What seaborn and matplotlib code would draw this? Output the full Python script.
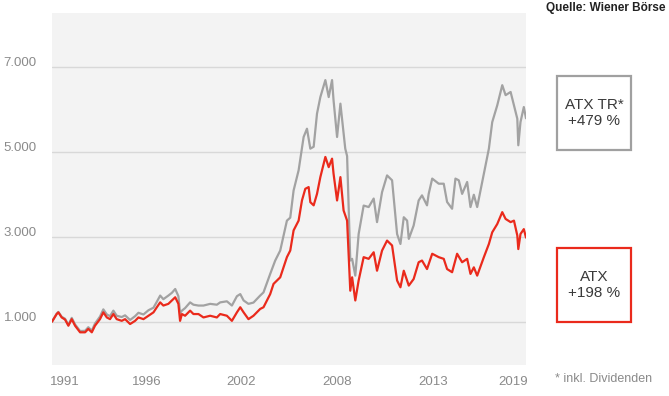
import pandas as pd
import matplotlib.pyplot as plt
import matplotlib.transforms as mtrans
from matplotlib.patches import Rectangle
import seaborn as sns

# ATX (Kursindex)
atx_years = [1991.0, 1991.28, 1991.38, 1991.58, 1991.78, 1991.98, 1992.18, 1992.38, 1992.68, 1992.98,
             1993.17, 1993.38, 1993.57, 1993.87, 1994.07, 1994.28, 1994.47, 1994.67, 1994.87, 1995.17,
             1995.37, 1995.67, 1995.97, 1996.17, 1996.47, 1996.77, 1997.07, 1997.27, 1997.47, 1997.66,
             1997.96, 1998.17, 1998.37, 1998.56, 1998.66, 1998.77, 1998.96, 1999.26, 1999.46, 1999.76,
             2000.06, 2000.46, 2000.86, 2001.06, 2001.46, 2001.76, 2002.06, 2002.26, 2002.46, 2002.75,
             2003.05, 2003.45, 2003.65, 2004.05, 2004.25, 2004.65, 2005.05, 2005.25, 2005.45, 2005.75,
             2005.95, 2006.15, 2006.35, 2006.45, 2006.65, 2006.85, 2007.05, 2007.35, 2007.55, 2007.75,
             2007.84, 2008.05, 2008.25, 2008.44, 2008.65, 2008.84, 2008.95, 2009.14, 2009.34, 2009.64,
             2009.94, 2010.24, 2010.44, 2010.74, 2011.04, 2011.34, 2011.64, 2011.84, 2012.04, 2012.34,
             2012.63, 2012.93, 2013.13, 2013.43, 2013.74, 2014.13, 2014.43, 2014.63, 2014.93, 2015.23,
             2015.53, 2015.83, 2016.03, 2016.23, 2016.43, 2016.83, 2017.13, 2017.33, 2017.63, 2017.93,
             2018.13, 2018.43, 2018.63, 2018.83, 2018.89, 2019.02, 2019.22, 2019.35]
atx_values = [1000, 1180, 1220, 1100, 1050, 905, 1060, 905, 750, 750,
              830, 750, 905, 1060, 1220, 1100, 1060, 1180, 1060, 1020,
              1060, 945, 1020, 1100, 1060, 1140, 1220, 1340, 1455, 1380,
              1420, 1500, 1575, 1420, 1020, 1180, 1140, 1260, 1180, 1180,
              1100, 1140, 1100, 1180, 1140, 1020, 1220, 1340, 1220, 1060,
              1140, 1300, 1340, 1650, 1890, 2045, 2520, 2675, 3150, 3380,
              3855, 4130, 4170, 3815, 3740, 4010, 4405, 4880, 4640, 4840,
              4485, 3855, 4405, 3620, 3380, 1730, 2045, 1500, 1970, 2520,
              2480, 2635, 2200, 2675, 2910, 2795, 1970, 1810, 2200, 1850,
              2005, 2400, 2440, 2240, 2600, 2520, 2480, 2240, 2165, 2600,
              2400, 2480, 2125, 2280, 2085, 2520, 2830, 3105, 3300, 3580,
              3420, 3345, 3380, 3030, 2710, 3065, 3180, 2980]

# ATX TR (inkl. Dividenden)
atxtr_years = [1991.0, 1991.28, 1991.38, 1991.58, 1991.78, 1991.98, 1992.18, 1992.38, 1992.68, 1992.98,
               1993.17, 1993.38, 1993.57, 1993.87, 1994.07, 1994.28, 1994.47, 1994.67, 1994.87, 1995.17,
               1995.37, 1995.67, 1995.97, 1996.17, 1996.47, 1996.77, 1997.07, 1997.27, 1997.47, 1997.66,
               1997.96, 1998.17, 1998.37, 1998.56, 1998.66, 1998.77, 1998.96, 1999.26, 1999.46, 1999.76,
               2000.06, 2000.46, 2000.86, 2001.06, 2001.46, 2001.76, 2002.06, 2002.26, 2002.46, 2002.75,
               2003.05, 2003.45, 2003.65, 2004.05, 2004.35, 2004.65, 2005.05, 2005.25, 2005.45, 2005.75,
               2006.05, 2006.25, 2006.45, 2006.65, 2006.85, 2007.05, 2007.35, 2007.55, 2007.75, 2007.84,
               2008.05, 2008.25, 2008.54, 2008.65, 2008.84, 2008.95, 2009.14, 2009.34, 2009.64, 2009.94,
               2010.24, 2010.44, 2010.74, 2011.04, 2011.34, 2011.64, 2011.84, 2012.04, 2012.24, 2012.34,
               2012.63, 2012.93, 2013.13, 2013.43, 2013.53, 2013.74, 2014.13, 2014.43, 2014.63, 2014.93,
               2015.13, 2015.33, 2015.53, 2015.83, 2016.03, 2016.23, 2016.43, 2016.83, 2017.13, 2017.33,
               2017.63, 2017.93, 2018.13, 2018.43, 2018.63, 2018.83, 2018.89, 2019.02, 2019.22, 2019.35]
atxtr_values = [1000, 1190, 1230, 1115, 1070, 925, 1090, 935, 780, 785,
                870, 790, 955, 1120, 1290, 1170, 1130, 1260, 1140, 1110,
                1150, 1040, 1130, 1210, 1170, 1270, 1330, 1470, 1615, 1530,
                1615, 1680, 1770, 1600, 1200, 1260, 1320, 1455, 1400, 1380,
                1380, 1420, 1400, 1455, 1480, 1380, 1600, 1650, 1500, 1420,
                1450, 1615, 1690, 2125, 2440, 2675, 3380, 3450, 4090, 4565,
                5350, 5545, 5075, 5120, 5900, 6290, 6690, 6290, 6690, 6215,
                5350, 6135, 5075, 4900, 2440, 2480, 2085, 3065, 3735, 3700,
                3900, 3345, 4050, 4445, 4330, 3065, 2830, 3460, 3380, 2950,
                3265, 3855, 3975, 3740, 4010, 4370, 4250, 4250, 3820, 3660,
                4370, 4330, 4010, 4290, 3700, 3990, 3700, 4485, 5075, 5700,
                6095, 6570, 6335, 6410, 6095, 5780, 5155, 5700, 6055, 5790]

year_ticks = [1991.78, 1996.69, 2002.32, 2008.07, 2013.81, 2018.6]
year_labels = ['1991', '1996', '2002', '2008', '2013', '2019']
value_ticks = [1000, 3000, 5000, 7000]
value_labels = ['1.000', '3.000', '5.000', '7.000']

sns.set_theme(style='white')
plt.rcParams['font.family'] = ['Liberation Sans', 'DejaVu Sans']

fig = plt.figure(figsize=(6.69, 3.96), dpi=100)
ax = fig.add_axes([52 / 669, 31 / 396, 474 / 669, 352 / 396])
ax.set_facecolor('#f3f3f3')

df_atx = pd.DataFrame({'Jahr': atx_years, 'Wert': atx_values})
df_tr = pd.DataFrame({'Jahr': atxtr_years, 'Wert': atxtr_values})

for v in value_ticks:
    ax.axhline(v, color='#d8d8d8', lw=1, zorder=0)

sns.lineplot(data=df_tr, x='Jahr', y='Wert', ax=ax, color='#a2a2a2', lw=1.6)
sns.lineplot(data=df_atx, x='Jahr', y='Wert', ax=ax, color='#ea2a1c', lw=1.6)

ax.set_xlim(1991.0, 2019.35)
ax.set_ylim(-20, 8270)
ax.set_xticks(year_ticks)
ax.set_xticklabels(year_labels)
ax.set_yticks(value_ticks)
ax.set_yticklabels(value_labels)
ax.set_xlabel('')
ax.set_ylabel('')
ax.tick_params(axis='both', length=0, labelsize=9.5, labelcolor='#8a8a8a')
ax.tick_params(axis='x', pad=8)
ax.tick_params(axis='y', pad=11)
for s in ax.spines.values():
    s.set_visible(False)

# Y-Beschriftungen leicht über den Gitterlinien
shift = mtrans.ScaledTranslation(0, 5 / 100, fig.dpi_scale_trans)
for lbl in ax.get_yticklabels():
    lbl.set_transform(lbl.get_transform() + shift)

# Kästen rechts
fig.patches.append(Rectangle((557 / 669, 246 / 396), 74 / 669, 74 / 396, transform=fig.transFigure,
                             fill=False, edgecolor='#a0a0a0', lw=1.6))
fig.patches.append(Rectangle((557 / 669, 74 / 396), 74 / 669, 74 / 396, transform=fig.transFigure,
                             fill=False, edgecolor='#ea2a1c', lw=1.6))
fig.text(594 / 669, 283 / 396, 'ATX TR*\n+479 %', ha='center', va='center', fontsize=11,
         color='#3a3a3a', linespacing=1.1)
fig.text(594 / 669, 111 / 396, 'ATX\n+198 %', ha='center', va='center', fontsize=11,
         color='#3a3a3a', linespacing=1.1)

fig.text(666 / 669, 388 / 396, 'Quelle: Wiener Börse', ha='right', va='center', fontsize=8.5,
         fontweight='bold', color='#222222', family=['Liberation Sans Narrow', 'Liberation Sans'])
fig.text(555 / 669, 17 / 396, '* inkl. Dividenden', ha='left', va='center', fontsize=9,
         color='#8a8a8a')

fig.savefig('out.png', dpi=100)
